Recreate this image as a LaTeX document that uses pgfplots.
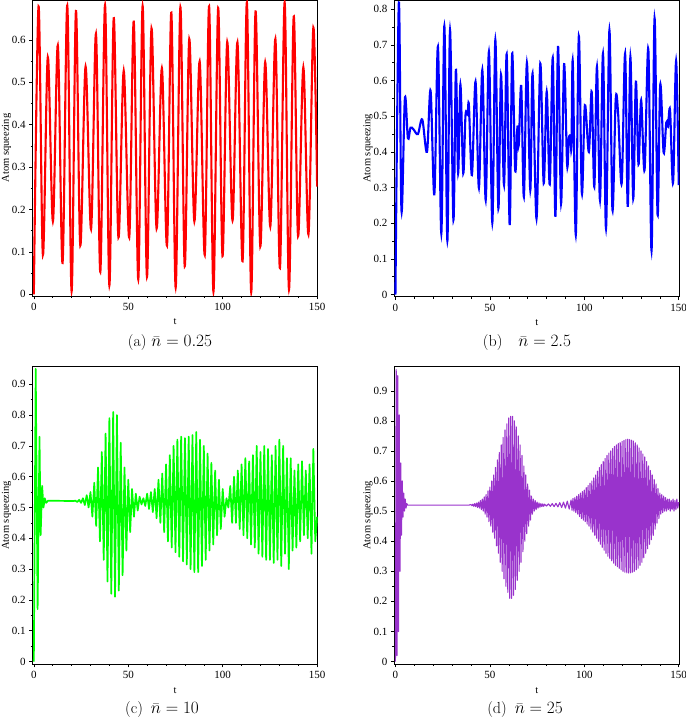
\documentclass[border=0pt]{standalone}
\usepackage{fontspec}
\usepackage{pgfplots}
\pgfplotsset{compat=1.18}
\newfontfamily\lib{Liberation Serif}
\definecolor{sqred}{RGB}{255,0,0}
\definecolor{sqblue}{RGB}{0,0,255}
\definecolor{sqgreen}{RGB}{0,255,0}
\definecolor{sqpurple}{RGB}{153,51,204}

\pgfplotsset{
  panel/.style={
    scale only axis, anchor=south west, width=285pt,
    xmin=-0.6, xmax=150.3,
    xtick={0,50,100,150}, minor x tick num=4,
    minor y tick num=1,
    tick align=outside, tick pos=left,
    major tick length=3.5pt, minor tick length=2pt,
    every tick/.style={black, line width=0.5pt},
    axis line style={line width=0.5pt},
    tick label style={font=\fontsize{11}{13}\lib},
    /pgf/number format/assume math mode=true,
    /pgf/number format/fixed,
    xlabel={t}, ylabel={Atom squeezing},
    label style={font=\fontsize{10.5}{12}\lib},
    xlabel style={at={(axis description cs:0.5,-0.088)}, anchor=center},
    ylabel style={at={(axis description cs:-0.092,0.5)}, anchor=center},
  }
}

\begin{document}
\begin{tikzpicture}
\path[use as bounding box] (0pt,0pt) rectangle (685pt,719pt);

% (a)
\begin{axis}[panel, at={(32.7pt,423pt)}, height=296pt,
  ymin=-0.004, ymax=0.694, ytick={0,0.1,...,0.6}]
\addplot[sqred, line width=2.1pt, smooth, tension=0.55] coordinates {
(0,0) (2.5,0.679) (4.8,0.093) (7.4,0.559) (10.1,0.172) (12.7,0.587) (15.2,0.074)
(17.7,0.681) (20.0,0.007) (22.3,0.668) (24.6,0.115) (27.4,0.537) (30.3,0.154)
(32.9,0.614) (35.2,0.053) (37.7,0.682) (40.0,0.021) (42.3,0.651) (44.8,0.134)
(47.6,0.527) (50.5,0.134) (52.9,0.643) (55.3,0.035) (57.6,0.680) (59.9,0.041)
(62.3,0.627) (65.0,0.155) (67.8,0.533) (70.5,0.115) (72.8,0.664) (75.1,0.016)
(77.6,0.677) (79.9,0.066) (82.3,0.602) (85.0,0.172) (87.8,0.549) (90.5,0.093)
(92.8,0.679) (95.1,0.006) (97.6,0.675) (99.9,0.090) (102.4,0.595) (105.2,0.174)
(107.8,0.594) (110.5,0.078) (112.8,0.688) (115.1,0.005) (117.4,0.667) (119.9,0.113)
(122.5,0.547) (125.2,0.160) (127.9,0.602) (130.3,0.062) (132.8,0.688) (135.1,0.011)
(137.6,0.655) (139.9,0.137) (142.7,0.535) (145.4,0.141) (148.0,0.629) (150,0.254)
};
\end{axis}

% (b)
\begin{axis}[panel, at={(394.3pt,422.3pt)}, height=296.7pt,
  ymin=-0.006, ymax=0.826, ytick={0,0.1,...,0.8}]
\addplot[sqblue, line width=2.1pt, smooth, tension=0.55] coordinates {
(0,0) (1.8,0.819) (3.2,0.235) (5.0,0.550) (6.6,0.438) (8.0,0.468) (9.6,0.463)
(11.9,0.450) (14.2,0.491) (16.7,0.400) (18.6,0.572) (20.6,0.281) (22.5,0.695)
(24.3,0.171) (25.9,0.753) (27.5,0.151) (28.9,0.742) (30.7,0.209) (32.0,0.630)
(33.2,0.340) (34.4,0.589) (35.9,0.340) (37.1,0.503) (38.2,0.505) (38.9,0.531)
(40.5,0.335) (42.4,0.597) (44.2,0.299) (46.0,0.630) (47.8,0.265) (49.5,0.681)
(51.3,0.201) (52.9,0.714) (54.5,0.241) (55.9,0.616) (57.5,0.307) (58.9,0.674)
(60.5,0.195) (61.8,0.676) (63.4,0.349) (64.6,0.471) (65.3,0.419) (66.6,0.585)
(68.0,0.274) (69.6,0.650) (71.4,0.293) (72.6,0.620) (74.7,0.213) (76.7,0.648)
(78.5,0.312) (80.1,0.569) (81.7,0.309) (83.3,0.664) (84.7,0.218) (86.1,0.697)
(87.7,0.255) (89.3,0.646) (90.9,0.363) (91.8,0.438) (92.7,0.441) (93.2,0.414)
(93.9,0.653) (95.5,0.167) (97.1,0.725) (98.7,0.284) (100.3,0.531) (102.4,0.400)
(103.9,0.569) (105.3,0.302) (106.7,0.639) (108.3,0.265) (109.9,0.676) (111.5,0.185)
(113.3,0.742) (114.9,0.237) (116.6,0.545) (117.9,0.508) (119.8,0.312) (121.6,0.676)
(123.0,0.246) (124.4,0.667) (125.9,0.269) (127.3,0.597) (128.7,0.365) (130.1,0.545)
(131.9,0.349) (133.9,0.688) (135.6,0.123) (137.2,0.775) (138.8,0.223) (140.2,0.588)
(142.0,0.398) (143.4,0.482) (144.3,0.471) (145.4,0.517) (147.0,0.313) (148.6,0.655)
(150,0.307)
};
\end{axis}

% (c)
\begin{axis}[panel, at={(32.7pt,55pt)}, height=297.3pt,
  ymin=-0.008, ymax=0.957, ytick={0,0.1,...,0.9}]
\addplot[sqgreen, line width=1.7pt, line join=round] coordinates {
(0,0) (1,0.95) (2,0.17) (3,0.73) (3.6,0.41) (4.4,0.57) (5.1,0.50) (5.8,0.53)
(6.5,0.515) (7.5,0.522) (21,0.521)
(22,0.522) (23,0.518) (24,0.525) (25,0.515) (26,0.53) (27,0.508) (28,0.54) (29,0.50)
(30,0.55) (31,0.47) (32,0.58) (33,0.44) (34,0.63) (35,0.39) (36,0.68) (37,0.33)
(38,0.74) (39,0.26) (40,0.79) (41,0.22) (42,0.81) (43,0.21) (44,0.80) (45,0.23)
(46,0.71) (47,0.28) (48,0.63) (49,0.36) (50,0.59) (51,0.42) (52,0.56) (53,0.47)
(54,0.545) (55,0.49) (56,0.535) (57,0.51) (58,0.53) (59,0.505) (60,0.545) (61,0.495)
(62,0.55) (63,0.485) (64,0.56) (65,0.465) (66,0.59) (67,0.45) (68,0.61) (69,0.42)
(70,0.64) (71,0.39) (72,0.67) (73,0.37) (74,0.70) (75,0.355) (76,0.72) (77,0.34)
(78,0.73) (79,0.325) (80,0.725) (81,0.315) (82,0.73) (83,0.30) (84,0.735) (85,0.29)
(86,0.745) (87,0.29) (88,0.72) (89,0.31) (90,0.70) (91,0.33) (92,0.675) (93,0.36)
(94,0.645) (95,0.38) (96,0.62) (97,0.41) (98,0.59) (99,0.43) (100,0.56) (101,0.47)
(102,0.53) (103,0.50) (104,0.57) (105,0.45) (106,0.60) (107,0.45) (108,0.62) (109,0.43)
(110,0.64) (111,0.41) (112,0.66) (113,0.40) (114,0.65) (115,0.38) (116,0.67) (117,0.37)
(118,0.70) (119,0.35) (120,0.68) (121,0.34) (122,0.70) (123,0.33) (124,0.69) (125,0.33)
(126,0.67) (127,0.32) (128,0.70) (129,0.33) (130,0.72) (131,0.31) (132,0.70) (133,0.35)
(134,0.66) (135,0.30) (136,0.66) (137,0.36) (138,0.62) (139,0.37) (140,0.64) (141,0.39)
(142,0.65) (143,0.41) (144,0.62) (145,0.40) (146,0.64) (147,0.35) (148,0.69) (149,0.39)
(150,0.47)
};
\end{axis}

% (d)
\begin{axis}[panel, at={(394.3pt,55pt)}, height=297.3pt,
  ymin=-0.008, ymax=0.98, ytick={0,0.1,...,0.9}]
\addplot[sqpurple, line width=1.1pt, line join=round] coordinates {
(0,0) (0.4,0.97) (0.8,0.02) (1.2,0.95) (1.6,0.10) (2.0,0.82) (2.4,0.30) (2.8,0.66)
(3.2,0.42) (3.6,0.60) (4.0,0.48) (4.4,0.56) (4.8,0.50) (5.2,0.54) (5.6,0.51)
(6.0,0.525) (6.5,0.52) (39,0.52)
(40,0.522) (40.5,0.518) (41,0.523) (41.5,0.516) (42,0.525) (42.5,0.515) (43,0.527) (43.5,0.512)
(44,0.53) (44.5,0.51) (45,0.535) (45.5,0.505) (46,0.54) (46.5,0.50) (47,0.547) (47.5,0.49)
(48,0.555) (48.5,0.48) (49,0.567) (49.5,0.465) (50,0.58) (50.5,0.45) (51,0.60) (51.5,0.43)
(52,0.62) (52.5,0.41) (53,0.645) (53.5,0.385) (54,0.67) (54.5,0.36) (55,0.695) (55.5,0.33)
(56,0.72) (56.5,0.30) (57,0.745) (57.5,0.275) (58,0.77) (58.5,0.25) (59,0.79) (59.5,0.23)
(60,0.81) (60.5,0.21) (61,0.815) (61.5,0.21) (62,0.815) (62.5,0.22) (63,0.80) (63.5,0.24)
(64,0.78) (64.5,0.27) (65,0.75) (65.5,0.30) (66,0.72) (66.5,0.33) (67,0.685) (67.5,0.365)
(68,0.65) (68.5,0.40) (69,0.62) (69.5,0.425) (70,0.59) (70.5,0.45) (71,0.57) (71.5,0.47)
(72,0.55) (72.5,0.49) (73,0.54) (73.5,0.50) (74,0.535) (74.5,0.505) (75,0.53) (75.5,0.51)
(76,0.527) (76.5,0.513) (77,0.525) (77.5,0.515) (78,0.524) (78.5,0.516)
(79,0.523) (80,0.517) (81,0.524) (82,0.516) (83,0.525) (84,0.515) (85,0.526) (86,0.514)
(87,0.528) (88,0.512) (89,0.53) (90,0.51) (91,0.533) (92,0.507) (93,0.537) (93.5,0.503)
(94,0.542) (94.5,0.50)
(95,0.545) (95.5,0.495) (96,0.55) (96.5,0.49) (97,0.555) (97.5,0.482) (98,0.56) (98.5,0.475)
(99,0.565) (99.5,0.47) (100,0.57) (100.5,0.465) (101,0.578) (101.5,0.457) (102,0.585) (102.5,0.45)
(103,0.593) (103.5,0.44) (104,0.60) (104.5,0.43) (105,0.61) (105.5,0.42) (106,0.62) (106.5,0.41)
(107,0.633) (107.5,0.40) (108,0.645) (108.5,0.39) (109,0.655) (109.5,0.38) (110,0.665) (110.5,0.37)
(111,0.675) (111.5,0.36) (112,0.685) (112.5,0.35) (113,0.693) (113.5,0.342) (114,0.70) (114.5,0.335)
(115,0.708) (115.5,0.327) (116,0.715) (116.5,0.32) (117,0.72) (117.5,0.315) (118,0.725) (118.5,0.31)
(119,0.728) (119.5,0.305) (120,0.732) (120.5,0.30) (121,0.735) (121.5,0.297) (122,0.738) (122.5,0.295)
(123,0.739) (123.5,0.294) (124,0.738) (124.5,0.295) (125,0.736) (125.5,0.297) (126,0.733) (126.5,0.30)
(127,0.727) (127.5,0.305) (128,0.72) (128.5,0.31) (129,0.71) (129.5,0.32) (130,0.70) (130.5,0.33)
(131,0.69) (131.5,0.345) (132,0.68) (132.5,0.36) (133,0.665) (133.5,0.375) (134,0.65) (134.5,0.39)
(135,0.635) (135.5,0.405) (136,0.62) (136.5,0.42) (137,0.605) (137.5,0.44) (138,0.59) (138.5,0.46)
(139,0.575) (139.5,0.475) (140,0.56) (140.5,0.49) (141,0.555) (141.5,0.495) (142,0.55) (142.5,0.50)
(143,0.545) (143.5,0.50) (144,0.54) (144.5,0.505) (145,0.54) (145.5,0.50) (146,0.535) (146.5,0.505)
(147,0.54) (147.5,0.50) (148,0.535) (148.5,0.505) (149,0.54) (149.5,0.51) (150,0.53)
};
\end{axis}

% captions
\node[font=\fontsize{16}{19}\selectfont] at (170pt,376pt) {(a)\ $\bar{n}=0.25$};
\node[font=\fontsize{16}{19}\selectfont] at (527pt,376pt) {(b)\quad$\bar{n}=2.5$};
\node[font=\fontsize{16}{19}\selectfont] at (162pt,9pt) {(c)\enskip$\bar{n}=10$};
\node[font=\fontsize{16}{19}\selectfont] at (525pt,9pt) {(d)\enskip$\bar{n}=25$};
\end{tikzpicture}
\end{document}
